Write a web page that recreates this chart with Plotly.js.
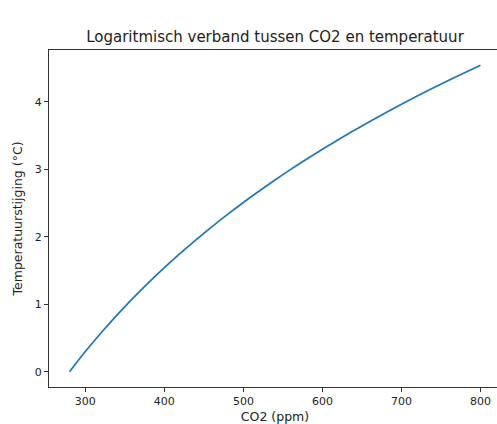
<!DOCTYPE html>
<html><head><meta charset="utf-8">
<script src="https://cdn.plot.ly/plotly-3.0.1.min.js"></script>
<style>html,body{margin:0;padding:0;overflow:hidden;background:#fff;width:497px;height:424px}#c{width:501px;height:424px}</style>
</head><body><div id="c"></div>
<script>
const co2 = [280,300,320,340,360,380,400,420,440,460,480,500,520,540,560,580,600,620,640,660,680,700,720,740,760,780,800];
const tempRise = [0,0.299,0.578,0.840,1.088,1.322,1.544,1.755,1.956,2.149,2.333,2.510,2.679,2.843,3.000,3.151,3.299,3.441,3.578,3.711,3.840,3.966,4.088,4.206,4.322,4.434,4.544];
const xTicks = [300,400,500,600,700,800];
const yTicks = [0,1,2,3,4];

const ff = 'DejaVu Sans, sans-serif';
Plotly.newPlot('c', [{
  x: co2, y: tempRise, type:'scatter', mode:'lines',
  line:{color:'#1f77b4', width:1.7, shape:'spline'}
}], {
  width:501, height:424,
  margin:{l:49, r:0, t:50, b:37},
  paper_bgcolor:'#fff', plot_bgcolor:'#fff',
  font: {family:ff, size:11, color:'#222'},
  showlegend:false,
  title:{text:'Logaritmisch verband tussen CO2 en temperatuur', font:{family:ff, size:15, color:'#222'},
         xref:'paper', x:0.5, xanchor:'center', yref:'container', y:1-37/424, yanchor:'middle'},
  xaxis:{range:[254,826], tickvals:xTicks, ticks:'outside', ticklen:4, tickcolor:'#333', showgrid:false, zeroline:false,
         showline:true, mirror:true, linecolor:'#333', linewidth:1,
         title:{text:'CO2 (ppm)', font:{family:ff, size:12.5, color:'#222'}, standoff:12}},
  yaxis:{range:[-0.227,4.771], tickvals:yTicks, ticks:'outside', ticklen:4, tickcolor:'#333', showgrid:false, zeroline:false,
         showline:true, mirror:true, linecolor:'#333', linewidth:1,
         title:{text:'Temperatuurstijging (°C)', font:{family:ff, size:12.5, color:'#222'}, standoff:9}}
}, {staticPlot:true, displayModeBar:false});
</script></body></html>
